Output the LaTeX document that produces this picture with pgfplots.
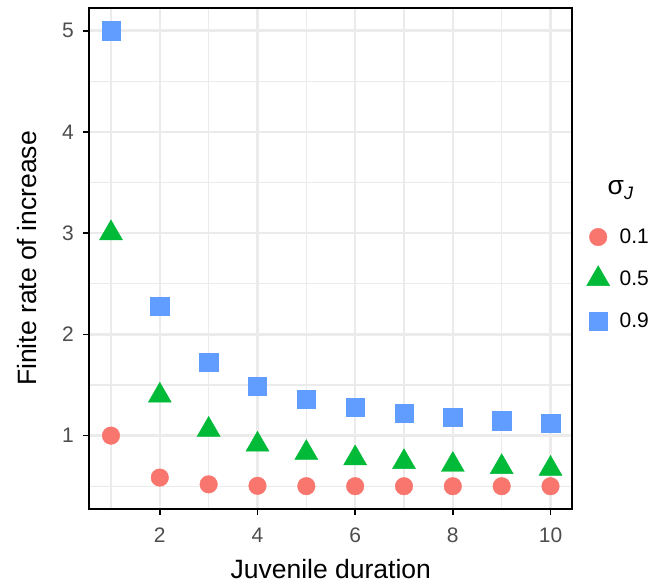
\documentclass[border=0pt]{standalone}
\usepackage{fontspec}
\setmainfont{Liberation Sans}
\usepackage{pgfplots}
\pgfplotsset{compat=1.18}
\definecolor{c1}{HTML}{F8766D}
\definecolor{c2}{HTML}{00BA38}
\definecolor{c3}{HTML}{619CFF}
\definecolor{gridc}{HTML}{EBEBEB}
\definecolor{tickc}{HTML}{4D4D4D}
\begin{document}
\begin{tikzpicture}
\begin{axis}[name=ax, scale only axis, width=483.5pt, height=501pt,
 xmin=0.55, xmax=10.45, ymin=0.275, ymax=5.225,
 xtick={2,4,6,8,10}, ytick={1,2,3,4,5},
 minor xtick={1,3,5,7,9}, minor ytick={0.5,1.5,2.5,3.5,4.5},
 grid=both,
 major grid style={gridc, line width=2.6pt},
 minor grid style={gridc, line width=1.3pt},
 axis line style={black, line width=2pt},
 tick align=outside, xtick pos=bottom, ytick pos=left,
 major tick length=6pt, minor tick length=0pt,
 major tick style={black, line width=1.6pt},
 /pgf/number format/assume math mode=true,
 ticklabel style={font=\fontsize{21}{21}\selectfont, text=tickc},
 xticklabel style={anchor=north, inner sep=0pt, yshift=-13pt},
 yticklabel style={anchor=east, inner sep=0pt, xshift=-9pt},
 xlabel={Juvenile duration}, ylabel={Finite rate of increase},
 label style={font=\fontsize{26.5}{30}\selectfont},
 xlabel style={at={(axis description cs:0.5,0)}, anchor=base, yshift=-70pt},
 ylabel style={at={(axis description cs:0,0.5)}, anchor=base, yshift=52pt},
 legend style={at={(axis description cs:1,0.459)}, anchor=west, xshift=14pt,
   draw=none, fill=none, inner sep=0pt, row sep=14pt, column sep=10pt,
   nodes={inner sep=0pt}, font=\fontsize{21}{21}\selectfont},
 legend cell align=left,
 legend image code/.code={\path[draw=none,fill=none] (0pt,-14pt) rectangle (20pt,14pt);
   \draw[#1,mark repeat=2,mark phase=2] plot coordinates {(0pt,0pt) (10pt,0pt) (20pt,0pt)};},
]
\addplot[only marks, mark=*, mark size=8.8pt, color=c1, mark options={draw=none}]
 coordinates {(1,1) (2,0.5854) (3,0.5186) (4,0.5039) (5,0.5008) (6,0.5002) (7,0.5000) (8,0.5) (9,0.5) (10,0.5)};
\addlegendentry{0.1}
\addplot[only marks, mark=triangle*, mark size=13.3pt, color=c2, mark options={draw=none}]
 coordinates {(1,3) (2,1.3956) (3,1.0582) (4,0.9119) (5,0.8297) (6,0.7766) (7,0.7393) (8,0.7115) (9,0.690) (10,0.6728)};
\addlegendentry{0.5}
\addplot[only marks, mark=square*, mark size=9.2pt, color=c3, mark options={draw=none}]
 coordinates {(1,5) (2,2.2780) (3,1.7250) (4,1.4906) (5,1.3608) (6,1.2784) (7,1.2212) (8,1.1792) (9,1.147) (10,1.1215)};
\addlegendentry{0.9}
\end{axis}
\node[anchor=base west, inner sep=0pt, font=\fontsize{26.5}{30}\selectfont] at ([xshift=35pt,yshift=-187pt]ax.north east) {σ\raisebox{-5pt}{\fontsize{18}{18}\selectfont\itshape J}};
\path ([xshift=-89pt,yshift=-76pt]ax.south west) rectangle ++(662pt,585pt);
\end{tikzpicture}
\end{document}
